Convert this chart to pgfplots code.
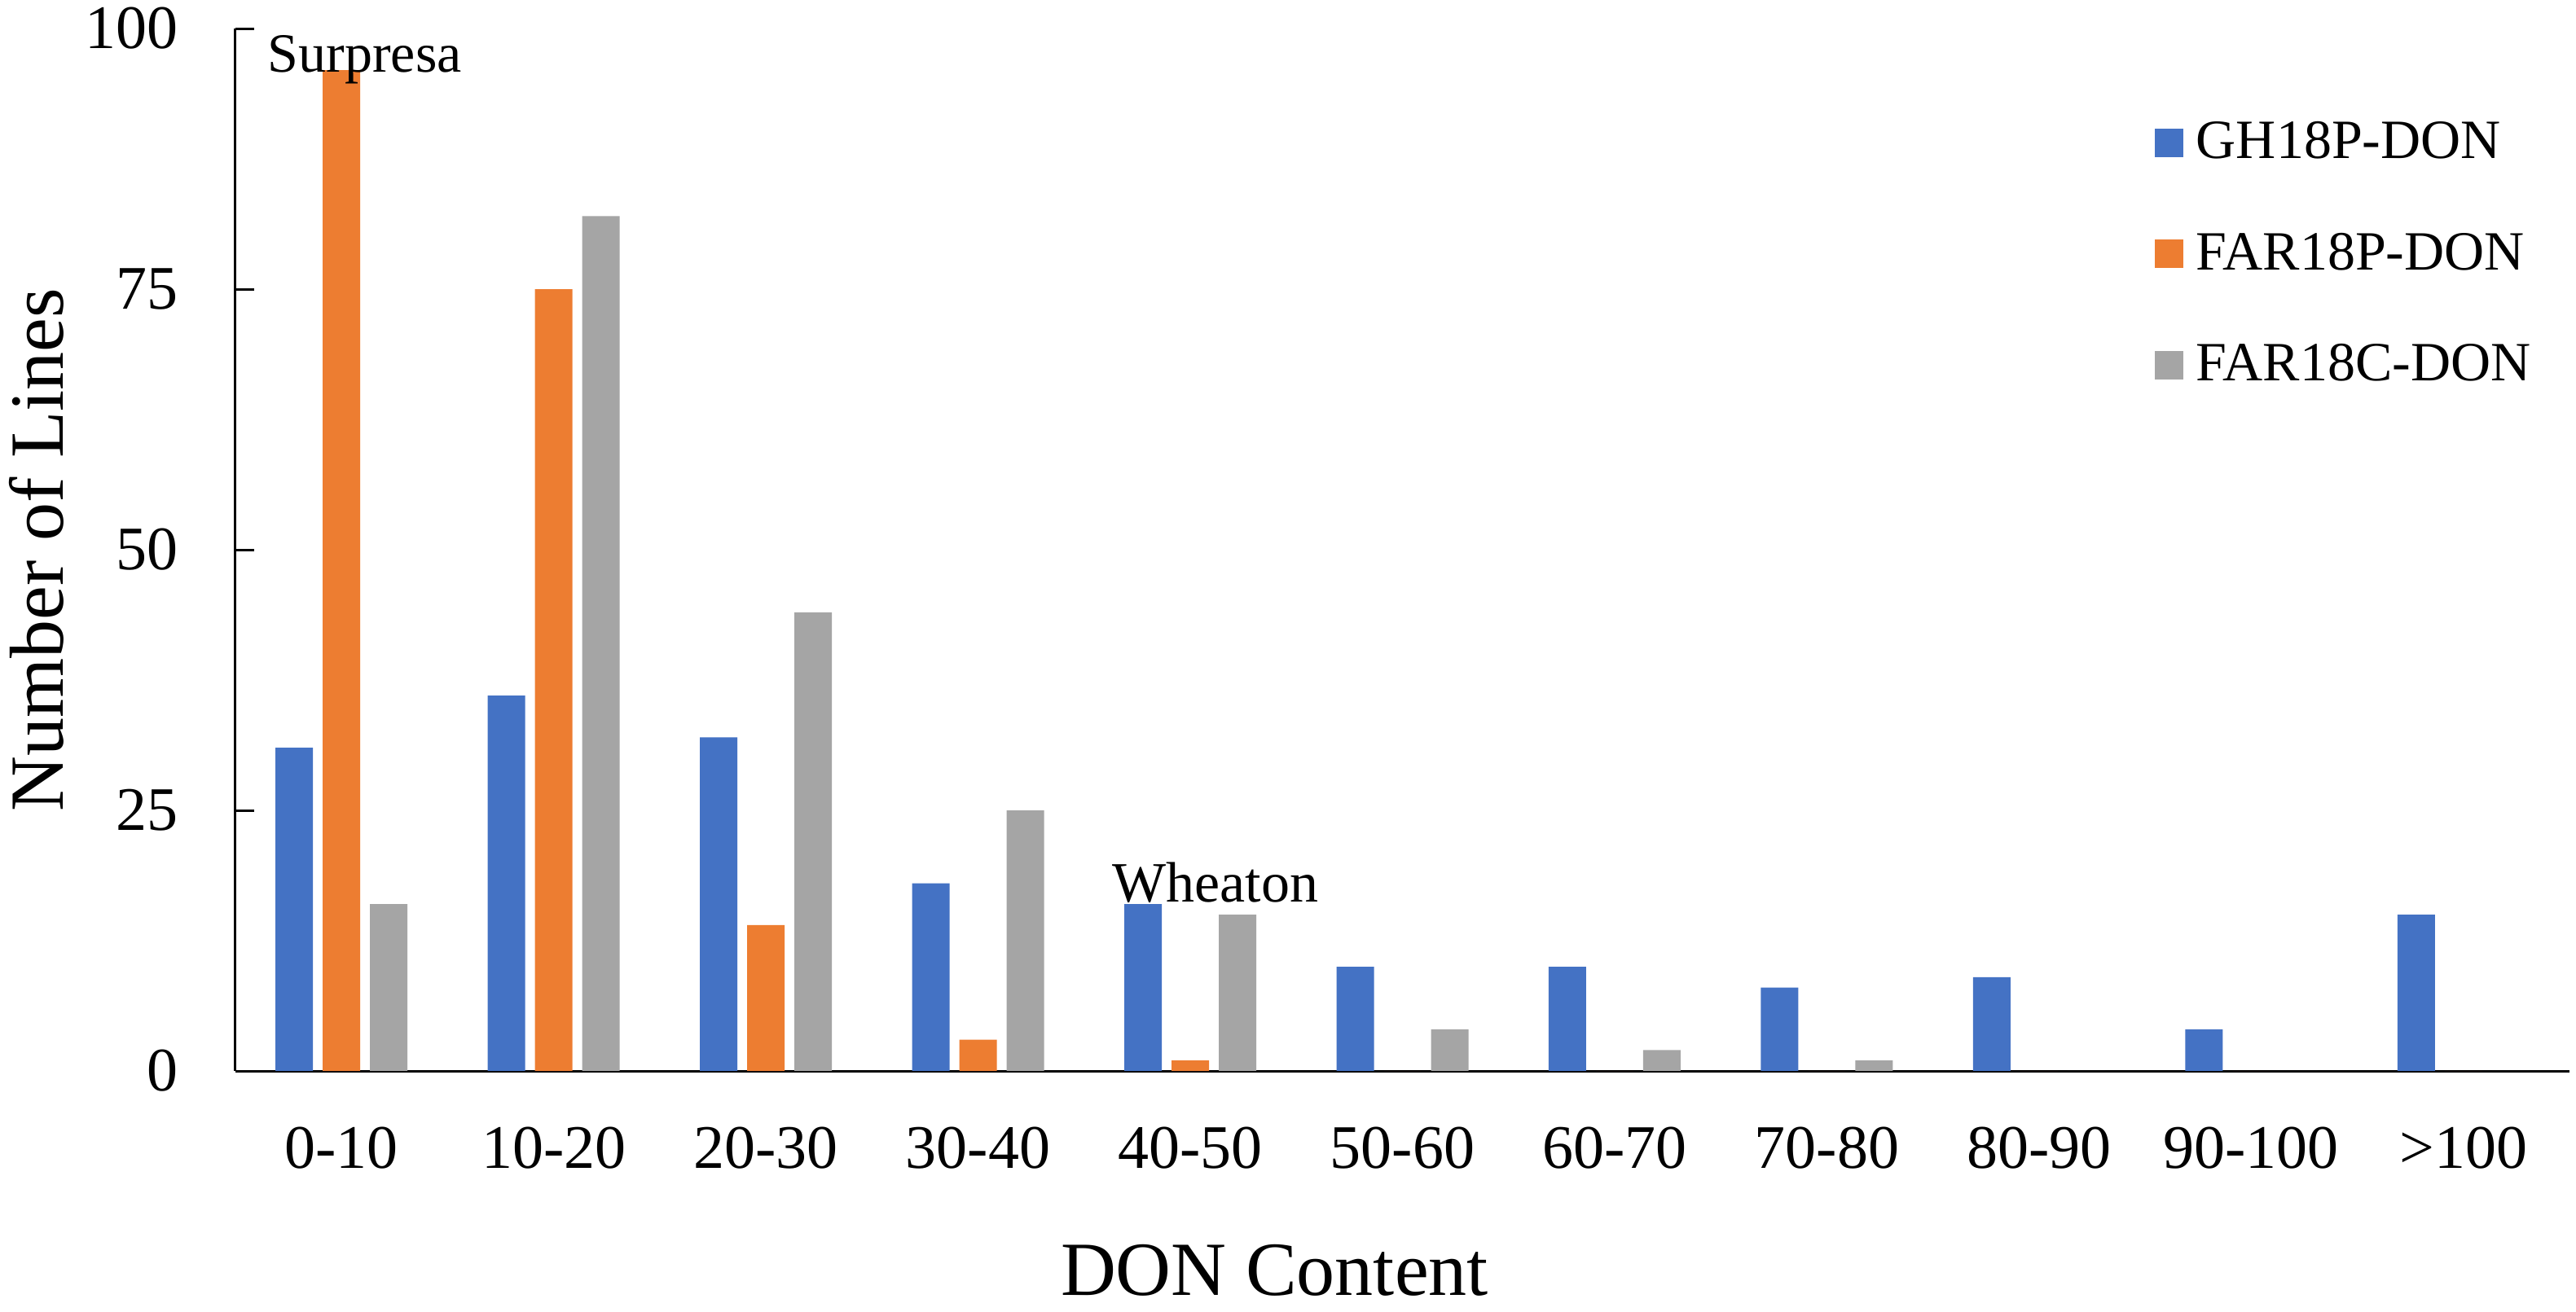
\documentclass[border=0pt]{standalone}
\usepackage{fontspec}
\setmainfont{Liberation Serif}
\usepackage{pgfplots}
\pgfplotsset{compat=1.18}
\definecolor{cblue}{HTML}{4472C4}
\definecolor{corange}{HTML}{ED7D31}
\definecolor{cgray}{HTML}{A5A5A5}
\begin{document}
\begin{tikzpicture}
\path[use as bounding box] (0,0) rectangle (790.5pt,402.5pt);
\begin{axis}[
  at={(72.25pt,73.75pt)}, anchor=south west,
  width=716.25pt, height=320pt, scale only axis,
  xmin=-0.5, xmax=10.5, ymin=0, ymax=100,
  ybar=3pt, bar width=11.5pt,
  axis lines*=left,
  axis line style={line width=0.75pt, black},
  xtick={0,...,10},
  xticklabels={0-10,10-20,20-30,30-40,40-50,50-60,60-70,70-80,80-90,90-100,>100},
  x tick style={draw=none},
  ytick={0,25,50,75,100},
  y tick style={line width=0.75pt, black},
  tick align=inside,
  major tick length=5.75pt,
  /pgf/number format/assume math mode=true,
  tick label style={font=\fontsize{19}{19}\selectfont, inner sep=0pt},
  yticklabel style={anchor=east, xshift=-17.5pt},
  xticklabel style={anchor=north, yshift=-17pt},
  ylabel={Number of Lines},
  ylabel style={font=\fontsize{23.5}{23.5}\selectfont, at={(axis description cs:-0.0852,0.5)}, anchor=center},
  xlabel={DON Content},
  xlabel style={font=\fontsize{23.5}{23.5}\selectfont, at={(axis description cs:0.4452,-0.2150)}, anchor=base, inner sep=0pt},
  legend style={draw=none, fill=none, at={(axis description cs:0.822,0.911)}, anchor=north west,
    inner sep=0pt, row sep=21.3pt, font=\fontsize{17}{17}\selectfont,
    nodes={inner sep=0pt}, column sep=4pt},
  legend cell align=left,
  legend image code/.code={\fill[#1] (0pt,-4.375pt) rectangle (8.75pt,4.375pt);},
]
\addplot[fill=cblue, draw=none] coordinates {(0,31) (1,36) (2,32) (3,18) (4,16) (5,10) (6,10) (7,8) (8,9) (9,4) (10,15)};
\addplot[fill=corange, draw=none] coordinates {(0,96) (1,75) (2,14) (3,3) (4,1) (5,0) (6,0) (7,0) (8,0) (9,0) (10,0)};
\addplot[fill=cgray, draw=none] coordinates {(0,16) (1,82) (2,44) (3,25) (4,15) (5,4) (6,2) (7,1) (8,0) (9,0) (10,0)};
\legend{GH18P-DON, FAR18P-DON, FAR18C-DON}
\node[anchor=base west, inner sep=0pt, font=\fontsize{17}{17}\selectfont] at (axis cs:-0.35,95.8) {Surpresa};
\node[anchor=base west, inner sep=0pt, font=\fontsize{17.5}{17.5}\selectfont] at (axis cs:3.63,16.2) {Wheaton};
\end{axis}
\end{tikzpicture}
\end{document}
